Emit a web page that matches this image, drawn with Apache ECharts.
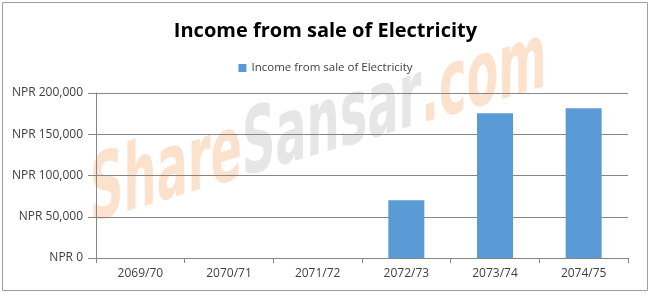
<!DOCTYPE html>
<html lang="en">
<head>
    <meta charset="UTF-8">
    <title>Income from sale of Electricity</title>
    <script src="https://cdn.jsdelivr.net/npm/echarts@6/dist/echarts.min.js"></script>
    <style>
        body { margin: 0; background: #fff; }
        #chart { width: 651px; height: 296px; }
    </style>
</head>
<body>
    <div id="chart"></div>
    <script>
        // data
        var years = ['2069/70', '2070/71', '2071/72', '2072/73', '2073/74', '2074/75'];
        var income = [0, 0, 0, 70000, 175500, 181500];
        var seriesName = 'Income from sale of Electricity';

        var chart = echarts.init(document.getElementById('chart'));

        function npr(v) {
            return 'NPR ' + v.toLocaleString('en-US');
        }

        var wmFont = { fontSize: 92, fontWeight: 'bold', fontFamily: 'DejaVu Sans Condensed' };

        chart.setOption({
            animation: false,
            textStyle: { fontFamily: 'Open Sans' },
            title: {
                text: 'Income from sale of Electricity',
                left: 'center',
                top: 16,
                textStyle: { fontSize: 20, fontWeight: 'bold', color: '#000', fontFamily: 'Open Sans' }
            },
            legend: {
                top: 57,
                left: 'center',
                itemWidth: 8,
                itemHeight: 8,
                itemGap: 5,
                textStyle: { fontSize: 11.5, color: '#404040' },
                data: [{ name: seriesName, icon: 'rect' }]
            },
            graphic: [
                {
                    type: 'rect',
                    shape: { x: 2.5, y: 2.5, width: 645, height: 288 },
                    style: { fill: 'none', stroke: '#a0a0a0', lineWidth: 1 },
                    z: -10
                },
                {
                    // watermark
                    type: 'text',
                    x: 90, y: 244,
                    scaleX: 0.56,
                    skewY: 0.29,
                    z: -5,
                    style: {
                        text: '{a|Share}{b|Sansar}{a|.com}',
                        fontFamily: wmFont.fontFamily,
                        fontWeight: 'bold',
                        fontSize: wmFont.fontSize,
                        verticalAlign: 'bottom',
                        rich: {
                            a: Object.assign({ fill: '#fce2cc' }, wmFont),
                            b: Object.assign({ fill: '#e6e6e6' }, wmFont)
                        }
                    }
                }
            ],
            grid: { left: 96, right: 23, top: 93, bottom: 38, containLabel: false },
            xAxis: {
                type: 'category',
                data: years,
                axisLine: { lineStyle: { color: '#868686' } },
                axisTick: { show: true, length: 5, lineStyle: { color: '#868686' } },
                axisLabel: { fontSize: 12, color: '#404040', margin: 10 }
            },
            yAxis: {
                type: 'value',
                min: 0,
                max: 200000,
                interval: 50000,
                axisLine: { show: true, lineStyle: { color: '#868686' } },
                axisTick: { show: true, length: 8, lineStyle: { color: '#868686' } },
                axisLabel: { fontSize: 12, color: '#404040', margin: 13, formatter: npr },
                splitLine: { lineStyle: { color: '#868686' } }
            },
            series: [{
                name: seriesName,
                type: 'bar',
                data: income,
                barWidth: 36,
                itemStyle: { color: '#5b9bd5' }
            }]
        });
    </script>
</body>
</html>
